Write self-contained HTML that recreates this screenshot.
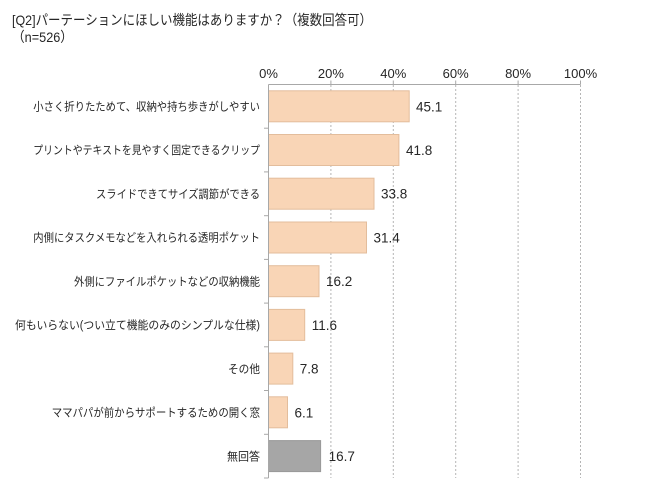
<!DOCTYPE html>
<html><head><meta charset="utf-8">
<style>
html,body{margin:0;padding:0;background:#fff;}
svg{display:block;}
.t{font-family:"Liberation Sans","Noto Sans CJK JP",sans-serif;fill:#262626;}
</style></head>
<body>
<svg width="650" height="493" viewBox="0 0 650 493" xmlns="http://www.w3.org/2000/svg">
<rect width="650" height="493" fill="#fff"/>
<text class="t" x="12" y="25" font-size="14" textLength="360" lengthAdjust="spacingAndGlyphs">[Q2]パーテーションにほしい機能はありますか？（複数回答可）</text>
<text class="t" x="12" y="42" font-size="14" textLength="61" lengthAdjust="spacingAndGlyphs">（n=526）</text>

<!-- tick labels -->
<g class="t" font-size="13" text-anchor="middle">
<text x="268.5" y="78">0%</text>
<text x="330.9" y="78">20%</text>
<text x="393.3" y="78">40%</text>
<text x="455.7" y="78">60%</text>
<text x="518.1" y="78">80%</text>
<text x="580.5" y="78">100%</text>
</g>

<!-- gridlines -->
<g stroke="#b5b5b5" stroke-width="1" stroke-dasharray="2,2">
<line x1="330.9" y1="85" x2="330.9" y2="478"/>
<line x1="393.3" y1="85" x2="393.3" y2="478"/>
<line x1="455.7" y1="85" x2="455.7" y2="478"/>
<line x1="518.1" y1="85" x2="518.1" y2="478"/>
<line x1="580.5" y1="85" x2="580.5" y2="478"/>
</g>

<!-- bars -->
<g stroke="#e3bd9c" stroke-width="1" fill="#f9d5b6">
<rect x="268.5" y="90.8" width="140.7" height="31"/>
<rect x="268.5" y="134.5" width="130.4" height="31"/>
<rect x="268.5" y="178.2" width="105.5" height="31"/>
<rect x="268.5" y="222.0" width="98.0" height="31"/>
<rect x="268.5" y="265.7" width="50.5" height="31"/>
<rect x="268.5" y="309.4" width="36.2" height="31"/>
<rect x="268.5" y="353.1" width="24.3" height="31"/>
<rect x="268.5" y="396.8" width="19.0" height="31"/>
</g>
<rect x="268.5" y="440.6" width="52.1" height="31" fill="#a6a6a6" stroke="#999" stroke-width="1"/>

<!-- axes -->
<g stroke="#a8a8a8" stroke-width="1">
<line x1="268.5" y1="84.5" x2="580.5" y2="84.5"/>
<line x1="268.5" y1="84.5" x2="268.5" y2="478"/>
<line x1="264" y1="128.2" x2="268.5" y2="128.2"/>
<line x1="264" y1="171.9" x2="268.5" y2="171.9"/>
<line x1="264" y1="215.7" x2="268.5" y2="215.7"/>
<line x1="264" y1="259.4" x2="268.5" y2="259.4"/>
<line x1="264" y1="303.1" x2="268.5" y2="303.1"/>
<line x1="264" y1="346.8" x2="268.5" y2="346.8"/>
<line x1="264" y1="390.5" x2="268.5" y2="390.5"/>
<line x1="264" y1="434.3" x2="268.5" y2="434.3"/>
<line x1="264" y1="478" x2="268.5" y2="478"/>
<line x1="330.9" y1="80.5" x2="330.9" y2="84.5"/>
<line x1="393.3" y1="80.5" x2="393.3" y2="84.5"/>
<line x1="455.7" y1="80.5" x2="455.7" y2="84.5"/>
<line x1="518.1" y1="80.5" x2="518.1" y2="84.5"/>
<line x1="580.5" y1="80.5" x2="580.5" y2="84.5"/>
</g>

<!-- value labels -->
<g class="t" font-size="13.5">
<text x="416" y="111.3">45.1</text>
<text x="406" y="155.0">41.8</text>
<text x="381" y="198.7">33.8</text>
<text x="373.5" y="242.5">31.4</text>
<text x="326" y="286.2">16.2</text>
<text x="311.7" y="329.9">11.6</text>
<text x="299.8" y="373.6">7.8</text>
<text x="294.5" y="417.3">6.1</text>
<text x="328.6" y="461.1">16.7</text>
</g>

<!-- category labels -->
<g class="t" font-size="11.5" text-anchor="end">
<text x="260" y="110.5" textLength="226.7" lengthAdjust="spacingAndGlyphs">小さく折りたためて、収納や持ち歩きがしやすい</text>
<text x="260" y="154.2" textLength="226.7" lengthAdjust="spacingAndGlyphs">プリントやテキストを見やすく固定できるクリップ</text>
<text x="260" y="197.9" textLength="164" lengthAdjust="spacingAndGlyphs">スライドできてサイズ調節ができる</text>
<text x="260" y="241.7" textLength="226.7" lengthAdjust="spacingAndGlyphs">内側にタスクメモなどを入れられる透明ポケット</text>
<text x="260" y="285.4" textLength="186" lengthAdjust="spacingAndGlyphs">外側にファイルポケットなどの収納機能</text>
<text x="260" y="329.1" textLength="245" lengthAdjust="spacingAndGlyphs">何もいらない(つい立て機能のみのシンプルな仕様)</text>
<text x="260" y="372.8" textLength="32" lengthAdjust="spacingAndGlyphs">その他</text>
<text x="260" y="416.5" textLength="208.3" lengthAdjust="spacingAndGlyphs">ママパパが前からサポートするための開く窓</text>
<text x="260" y="460.3" textLength="33" lengthAdjust="spacingAndGlyphs">無回答</text>
</g>
</svg>
</body></html>
